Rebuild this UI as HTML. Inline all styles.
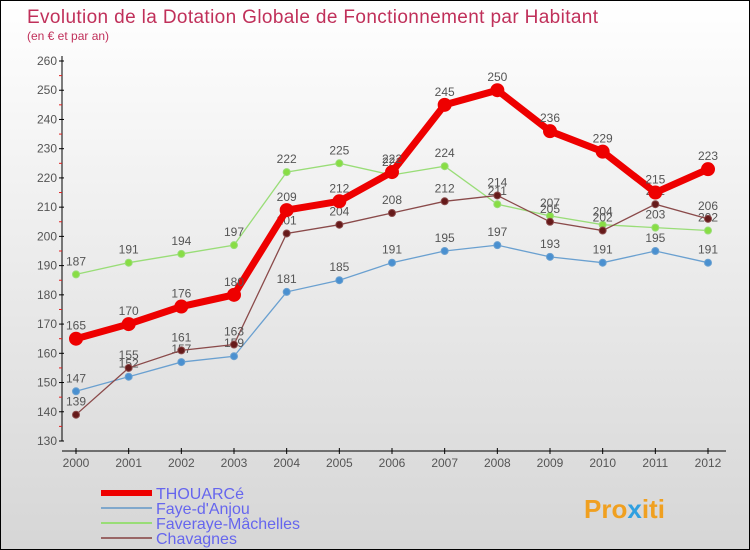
<!DOCTYPE html>
<html><head><meta charset="utf-8"><style>
body{margin:0}
#c{width:750px;height:550px;position:relative;overflow:hidden;background:linear-gradient(#ffffff,#d6d6d6);border:1px solid #000;box-sizing:border-box;font-family:"Liberation Sans",sans-serif}
</style></head><body>
<div id="c">
<svg id="s" width="750" height="550" style="position:absolute;left:0;top:0">
<text x="26" y="22" font-size="19" textLength="571" fill="#c0305a" font-family="Liberation Sans, sans-serif">Evolution de la Dotation Globale de Fonctionnement par Habitant</text>
<text x="26" y="39" font-size="12" fill="#c0305a">(en € et par an)</text>
<g id="axes"></g><g id="series"></g><g id="legend"></g>
<text x="583" y="517" font-size="26" font-weight="bold" fill="#f0a020">Pro<tspan fill="#30a0e0">x</tspan>iti</text>
</svg>
</div>
<script>
const years=[2000,2001,2002,2003,2004,2005,2006,2007,2008,2009,2010,2011,2012];
const thouarce=[165,170,176,180,209,212,222,245,250,236,229,215,223];
const faye=[147,152,157,159,181,185,191,195,197,193,191,195,191];
const faveraye=[187,191,194,197,222,225,221,224,211,207,204,203,202];
const chavagnes=[139,155,161,163,201,204,208,212,214,205,202,211,206];
const yTicks=[130,140,150,160,170,180,190,200,210,220,230,240,250,260];
const NS="http://www.w3.org/2000/svg";
const X=i=>75+i*(707-75)/(years.length-1);
const Y=v=>440-(v-130)*(380/130);
function mk(t,a,p){const e=document.createElementNS(NS,t);for(const k in a)e.setAttribute(k,a[k]);p.appendChild(e);return e;}
const ax=document.getElementById('axes');
let l=mk('line',{x1:61,y1:55,x2:61,y2:440,stroke:'#000'},ax);


l=mk('line',{x1:61,y1:450,x2:725,y2:450,stroke:'#000'},ax);


yTicks.forEach(v=>{mk('line',{x1:58,y1:Y(v),x2:63,y2:Y(v),stroke:'#000'},ax);
 if(v<260)mk('line',{x1:58,y1:Y(v+5),x2:61,y2:Y(v+5),stroke:'#e02020'},ax);
 const t=mk('text',{x:56,y:Y(v)+4,'font-size':12,'text-anchor':'end',fill:'#555'},ax);t.textContent=v;
 
 });
years.forEach((y,i)=>{mk('line',{x1:X(i),y1:447,x2:X(i),y2:453,stroke:'#000'},ax);
 const t=mk('text',{x:X(i),y:466,'font-size':12,'text-anchor':'middle',fill:'#555'},ax);t.textContent=y;
 
 });
const sg=document.getElementById('series');
function series(name,vals,col,w,r,fill){const g=mk('g',{},sg);
 
 
 mk('polyline',{points:vals.map((v,i)=>X(i)+','+Y(v)).join(' '),fill:'none',stroke:col,'stroke-width':w},g);
 vals.forEach((v,i)=>{const c=mk('circle',{cx:X(i),cy:Y(v),r:r,fill:fill,stroke:col,'stroke-width':1},g);
  
  
  const t=mk('text',{x:X(i),y:Y(v)-9,'font-size':12,'text-anchor':'middle',fill:'#555'},g);t.textContent=v;
  
  });}
series('faye',faye,'#6aa0d0',1.3,3.5,'#4a90d0');
series('faveraye',faveraye,'#99dd77',1.3,3.5,'#88dd44');
series('chavagnes',chavagnes,'#8a4a4a',1.3,3.5,'#661a1a');
series('thouarce',thouarce,'#ee0000',7,6.5,'#ee0000');
const lg=document.getElementById('legend');
const items=[['THOUARCé','#ee0000',6],['Faye-d\'Anjou','#80a8cc',2],['Faveraye-Mâchelles','#99dd77',2],['Chavagnes','#996666',2]];
items.forEach((it,i)=>{const y=492+i*15;
 mk('line',{x1:100,y1:y,x2:151,y2:y,stroke:it[1],'stroke-width':it[2]},lg);
 const t=mk('text',{x:155,y:y+6,'font-size':16,fill:'#6666ee'},lg);t.textContent=it[0];
 
 });
</script>
</body></html>
